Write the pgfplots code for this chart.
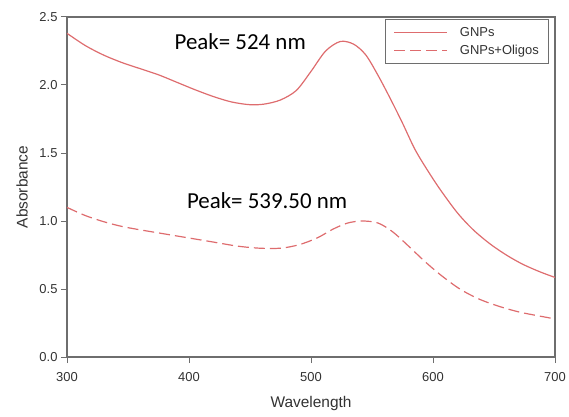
\documentclass[border=0pt]{standalone}
\usepackage{pgfplots}
\pgfplotsset{compat=1.18}
\usepackage{fontspec}
\setmainfont{Liberation Sans}
\newfontfamily\calib{Carlito}
\definecolor{linered}{RGB}{222,108,110}
\definecolor{axgray}{RGB}{110,110,110}
\definecolor{txtgray}{RGB}{50,50,50}
\pgfplotsset{
  speclegend/.style={legend image code/.code={%
    \draw[##1, line width=1.3pt] (0bp,0bp) -- (53bp,0bp);}},
}
\begin{document}
\begin{tikzpicture}
\begin{axis}[
  scale only axis,
  width=488bp, height=340bp,
  xmin=300, xmax=700, ymin=0, ymax=2.5,
  xtick={300,400,...,700}, ytick={0,0.5,...,2.5},
  yticklabel style={/pgf/number format/.cd, fixed, fixed zerofill, precision=1},
  /pgf/number format/assume math mode=true,
  tick label style={font=\fontsize{13}{15}\selectfont, text=txtgray},
  xticklabel style={yshift=-6bp},
  label style={font=\fontsize{15.5}{18}\selectfont, text=txtgray},
  xlabel={Wavelength}, ylabel={Absorbance},
  xlabel style={at={(axis description cs:0.5,-0.138)}, anchor=center},
  ylabel style={at={(axis description cs:-0.092,0.5)}, anchor=center},
  axis line style={axgray, line width=1.1pt},
  tick style={axgray, line width=1pt},
  tick align=outside, major tick length=6bp,
  xtick pos=bottom, ytick pos=left,
  legend style={at={(rel axis cs:0.988,0.994)}, anchor=north east, draw=axgray, line width=0.8pt,
    font=\fontsize{13}{15}\selectfont, text=txtgray,
    row sep=3bp, inner xsep=8bp, inner ysep=6bp,
    /tikz/every odd column/.append style={column sep=10bp}},
  legend cell align=left,
]
\addplot[linered, line width=1.2pt, smooth, speclegend] coordinates {
(300,2.38) (315,2.29) (330,2.22) (345,2.165) (360,2.12) (375,2.075) (390,2.02)
(405,1.965) (420,1.915) (435,1.875) (450,1.855) (462,1.86) (475,1.89) (488,1.96)
(500,2.10) (512,2.25) (524,2.32) (535,2.30) (545,2.22) (555,2.07) (565,1.90)
(575,1.72) (585,1.53) (595,1.38) (606,1.23) (620,1.06) (633,0.935) (647,0.83)
(661,0.745) (674,0.68) (688,0.625) (700,0.585)};
\addlegendentry{GNPs}
\addplot[linered, line width=1.2pt, smooth, dash pattern=on 11bp off 5bp, speclegend] coordinates {
(300,1.10) (315,1.04) (330,0.995) (345,0.96) (360,0.935) (380,0.905) (400,0.875)
(420,0.845) (440,0.815) (458,0.80) (475,0.80) (490,0.825) (505,0.875) (518,0.94)
(530,0.985) (542,1.00) (555,0.985) (567,0.92) (580,0.815) (593,0.705) (606,0.605)
(622,0.50) (638,0.425) (655,0.37) (671,0.33) (688,0.30) (700,0.28)};
\addlegendentry{GNPs+Oligos}
\node[font=\calib\fontsize{23}{26}\selectfont] at (axis cs:442,2.32) {Peak= 524 nm};
\node[font=\calib\fontsize{23}{26}\selectfont] at (axis cs:464,1.15) {Peak= 539.50 nm};
\end{axis}
\pgfresetboundingbox
\path ([xshift=-67bp,yshift=-60bp]current axis.south west) rectangle ([xshift=14bp,yshift=17bp]current axis.north east);
\end{tikzpicture}
\end{document}
